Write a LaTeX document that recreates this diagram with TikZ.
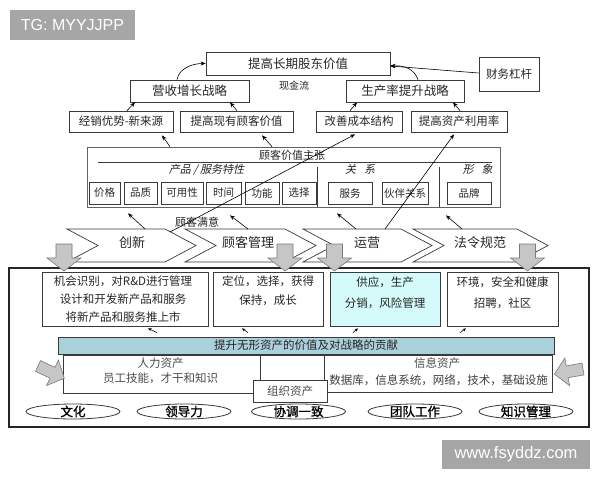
\documentclass[tikz,border=0pt]{standalone}
\usepackage{fontspec}
\newfontfamily\cjk{Noto Sans CJK SC}
\newfontfamily\cjkb[FakeBold=1.2]{Noto Sans CJK SC}
\newfontfamily\cjki[FakeSlant=0.22]{Noto Sans CJK SC}
\newfontfamily\lat{Liberation Sans}
\usetikzlibrary{shapes.geometric,arrows.meta}
\definecolor{lc}{HTML}{3A3A3A}
\definecolor{tc}{HTML}{262626}
\definecolor{gfill}{HTML}{C6C6C6}
\definecolor{gedge}{HTML}{7A7A7A}
\definecolor{cyanf}{HTML}{D4FAFA}
\definecolor{barf}{HTML}{AAD0DC}
\definecolor{wm}{HTML}{A6A6A6}
\newcommand\fsz[1]{\fontsize{#1}{#1}\selectfont}
\newcommand\gdown[1]{\draw[garr] (#1-8,244) -- (#1+8,244) -- (#1+8,258) -- (#1+17,258) -- (#1,271) -- (#1-17,258) -- (#1-8,258) -- cycle;}
\newcommand\chev[3]{\draw[chv] (#1,229) -- (#2,229) -- (#3,245.5) -- (#2,262) -- (#1,262) -- (#1+31,245.5) -- cycle;}
\begin{document}
\begin{tikzpicture}[x=1pt,y=-1pt,
  bx/.style={draw=lc, line width=0.7pt, fill=white, inner sep=0pt, text=tc},
  tx/.style={inner sep=0pt, text=tc},
  arr/.style={draw=black, line width=0.6pt, -{Stealth[length=5pt,width=4pt]}},
  sarr/.style={draw=black, line width=0.6pt, -{Stealth[length=3.5pt,width=3pt]}},
  chv/.style={draw=lc, line width=0.7pt, fill=white},
  garr/.style={draw=gedge, line width=0.6pt, fill=gfill},
  ell/.style={draw=lc, line width=0.8pt, fill=white, ellipse, inner sep=0pt, minimum width=94pt, minimum height=15pt},
  wmk/.style={fill=wm, inner sep=0pt, text=white, font=\lat}
]
\useasboundingbox (0,0) rectangle (600,480);
\fill[white] (0,0) rectangle (600,480);

% watermarks
\node[wmk, minimum width=125pt, minimum height=30pt, font=\lat\fsz{16}] (wm1) at (72.5,25) {TG: MYYJJPP};
\node[wmk, minimum width=148pt, minimum height=29pt, font=\lat\fsz{16.5}] (wm2) at (516,454.5) {www.fsyddz.com};

% top level
\node[bx, minimum width=184pt, minimum height=23pt, font=\cjk\fsz{12.5}] (top) at (298,63.5) {提高长期股东价值};
\node[bx, minimum width=60pt, minimum height=34pt, font=\cjk\fsz{11.5}] (fin) at (509,74) {财务杠杆};
\node[bx, minimum width=119pt, minimum height=22pt, font=\cjk\fsz{12.5}] (rev) at (189.5,91) {营收增长战略};
\node[bx, minimum width=118pt, minimum height=22pt, font=\cjk\fsz{12.5}] (prod) at (405,91) {生产率提升战略};
\node[tx, font=\cjk\fsz{10}] (cash) at (294,86) {现金流};

\node[bx, minimum width=104pt, minimum height=21pt, font=\cjk\fsz{11.5}] (la) at (121,121.5) {经销优势-新来源};
\node[bx, minimum width=113pt, minimum height=21pt, font=\cjk\fsz{11.5}] (lb) at (236.5,121.5) {提高现有顾客价值};
\node[bx, minimum width=86pt, minimum height=21pt, font=\cjk\fsz{11.5}] (lcn) at (359,121.5) {改善成本结构};
\node[bx, minimum width=96pt, minimum height=21pt, font=\cjk\fsz{11.5}] (ldn) at (459,121.5) {提高资产利用率};

\draw[arr] ([xshift=-12.5pt]rev.north) .. controls +(2,-11) and +(-14,0) .. (top.west);
\draw[arr] ([xshift=13pt]prod.north) .. controls +(-3,-9) and +(16,-1) .. ([yshift=-2.5pt]top.east);
\draw[arr] ([yshift=1pt]fin.west) -- ([yshift=-2.5pt]top.east);

\draw[arr] ([xshift=6pt]la.north) -- ([xshift=-54.5pt]rev.south);
\draw[arr] ([xshift=0.5pt]lb.north) -- ([xshift=40.5pt]rev.south);
\draw[arr] ([xshift=-9pt]lcn.north) -- ([xshift=-48pt]prod.south);
\draw[arr] ([xshift=1pt]ldn.north) -- ([xshift=48pt]prod.south);

% customer value proposition
\node[bx, draw=gedge!80!black, minimum width=413pt, minimum height=60pt] (vb) at (293.5,177) {};
\node[tx, font=\cjk\fsz{11}] (vbt) at (292,155) {顾客价值主张};
\draw[lc, line width=0.7pt] (98,162) -- (492,162);
\draw[lc, line width=0.7pt] (317,167) -- (317,207);
\draw[lc, line width=0.7pt] (439,167) -- (439,207);
\node[tx, font=\cjki\fsz{11}] (g1) at (206.5,169.5) {产品 / 服务特性};
\node[tx, font=\cjki\fsz{11}] (g2) at (360,169.5) {关\hspace{8pt}系};
\node[tx, font=\cjki\fsz{11}] (g3) at (477.5,169.5) {形\hspace{8pt}象};

\node[bx, minimum width=31pt, minimum height=22pt, font=\cjk\fsz{10.5}] (s1) at (104.5,193) {价格};
\node[bx, minimum width=33pt, minimum height=22pt, font=\cjk\fsz{10.5}] (s2) at (140.5,193) {品质};
\node[bx, minimum width=42pt, minimum height=22pt, font=\cjk\fsz{10.5}] (s3) at (182,193) {可用性};
\node[bx, minimum width=35pt, minimum height=22pt, font=\cjk\fsz{10.5}] (s4) at (223.5,193) {时间};
\node[bx, minimum width=34pt, minimum height=22pt, font=\cjk\fsz{10.5}] (s5) at (262,193) {功能};
\node[bx, minimum width=34pt, minimum height=22pt, font=\cjk\fsz{10.5}] (s6) at (299,193) {选择};
\node[bx, minimum width=44pt, minimum height=22pt, font=\cjk\fsz{10.5}] (s7) at (350,193.5) {服务};
\node[bx, minimum width=46pt, minimum height=22pt, font=\cjk\fsz{10.5}] (s8) at (405,193.5) {伙伴关系};
\node[bx, minimum width=44pt, minimum height=22pt, font=\cjk\fsz{10.5}] (s9) at (469,193.5) {品牌};

\draw[arr] ([xshift=-123.5pt]vb.north) -- ([xshift=41pt,yshift=-3pt]la.south);
\draw[arr] ([xshift=-21.5pt]vb.north) -- ([xshift=25.5pt,yshift=-3pt]lb.south);

\node[tx, font=\cjk\fsz{11}] (sat) at (197,222) {顾客满意};

% chevrons
\chev{67}{165}{196}
\chev{185}{285}{316}
\chev{303}{401}{432}
\chev{413}{517}{548}
\node[tx, font=\cjk\fsz{13}] (c1) at (132,242.5) {创新};
\node[tx, font=\cjk\fsz{13}] (c2) at (248,242.5) {顾客管理};
\node[tx, font=\cjk\fsz{13}] (c3) at (367,242.5) {运营};
\node[tx, font=\cjk\fsz{13}] (c4) at (480,242.5) {法令规范};
\coordinate (k1) at (145,229);
\coordinate (k2) at (248,229);
\coordinate (k3) at (356,229);
\coordinate (k4) at (462,229);
\coordinate (k5) at (170,232);
\coordinate (k6) at (385,229);

\draw[arr] (k1) -- ([xshift=-165.5pt,yshift=-6pt]vb.south);
\draw[arr] (k2) -- ([xshift=-63.5pt,yshift=-8pt]vb.south);
\draw[arr] (k3) -- ([xshift=43.5pt,yshift=-6pt]vb.south);
\draw[arr] (k4) -- ([xshift=152.5pt,yshift=-8pt]vb.south);
\draw[arr] (k5) -- ([xshift=-4pt,yshift=-2pt]lcn.south);
\draw[arr] (k6) -- ([xshift=-5pt,yshift=-2pt]ldn.south);

% bottom frame
\node[draw=black!85, line width=1.4pt, fill=white, inner sep=0pt, minimum width=580pt, minimum height=159pt] (frame) at (299,347.5) {};

\node[bx, minimum width=166pt, minimum height=54pt] (bA) at (125,299) {};
\node[bx, minimum width=110pt, minimum height=54pt] (bB) at (268,299) {};
\node[bx, fill=cyanf, minimum width=110pt, minimum height=54pt] (bC) at (385,299) {};
\node[bx, minimum width=111pt, minimum height=54pt] (bD) at (502.5,299) {};
\node[tx, font=\cjk\fsz{11.5}] (tA1) at (123,281) {机会识别，对R\&D进行管理};
\node[tx, font=\cjk\fsz{11.5}] (tA2) at (123,299.5) {设计和开发新产品和服务};
\node[tx, font=\cjk\fsz{11.5}] (tA3) at (123,317) {将新产品和服务推上市};
\node[tx, font=\cjk\fsz{11.5}] (tB1) at (268,281) {定位，选择，获得};
\node[tx, font=\cjk\fsz{11.5}] (tB2) at (268,300) {保持，成长};
\node[tx, font=\cjk\fsz{11.5}] (tC1) at (385,282) {供应，生产};
\node[tx, font=\cjk\fsz{11.5}] (tC2) at (385,303) {分销，风险管理};
\node[tx, font=\cjk\fsz{11.5}] (tD1) at (502.5,282) {环境，安全和健康};
\node[tx, font=\cjk\fsz{11.5}] (tD2) at (502.5,303) {招聘，社区};

\node[draw=lc, line width=0.8pt, fill=barf, inner sep=0pt, minimum width=496pt, minimum height=17pt, font=\cjk\fsz{11.5}, text=tc] (bar) at (306,345.5) {提升无形资产的价值及对战略的贡献};

\draw[sarr] ([xshift=-149pt,yshift=4pt]bar.north) -- ([xshift=23pt,yshift=-2pt]bA.south);
\draw[sarr] ([xshift=-58pt,yshift=4pt]bar.north) -- ([xshift=-26pt,yshift=-2pt]bB.south);
\draw[sarr] ([xshift=47pt,yshift=4pt]bar.north) -- ([xshift=-27pt,yshift=-2pt]bC.south);
\draw[sarr] ([xshift=154pt,yshift=4pt]bar.north) -- ([xshift=-36.5pt,yshift=-2pt]bD.south);

\node[bx, minimum width=64pt, minimum height=30pt] (mid) at (292,370) {};
\node[bx, minimum width=197pt, minimum height=38pt] (hum) at (161.5,374) {};
\node[bx, minimum width=228pt, minimum height=37pt] (inf) at (438,373.5) {};
\node[tx, font=\cjk\fsz{11.5}, text=black!70] (h1) at (160.5,363) {人力资产};
\node[tx, font=\cjk\fsz{11.5}, text=black!70] (h2) at (160.5,378.5) {员工技能，才干和知识};
\node[tx, font=\cjk\fsz{11.5}, text=black!70] (i1) at (437,363) {信息资产};
\node[tx, font=\cjk\fsz{11.5}, text=black!75] (i2) at (438.5,380) {数据库，信息系统，网络，技术，基础设施};
\node[bx, minimum width=74pt, minimum height=22pt, font=\cjk\fsz{11.5}, text=black!70] (org) at (290,391) {组织资产};

\node[ell] (e1) at (73,411.5) {};
\node[ell] (e2) at (184,411.5) {};
\node[ell] (e3) at (298.5,411.5) {};
\node[ell] (e4) at (415,411.5) {};
\node[ell] (e5) at (526,411.5) {};
\node[tx, font=\cjkb\fsz{12.5}, text=black] (et1) at (73,411.5) {文化};
\node[tx, font=\cjkb\fsz{12.5}, text=black] (et2) at (184,411.5) {领导力};
\node[tx, font=\cjkb\fsz{12.5}, text=black] (et3) at (298.5,411.5) {协调一致};
\node[tx, font=\cjkb\fsz{12.5}, text=black] (et4) at (415,411.5) {团队工作};
\node[tx, font=\cjkb\fsz{12.5}, text=black] (et5) at (526,411.5) {知识管理};

% gray block arrows
\gdown{64}
\gdown{285}
\gdown{334.5}
\gdown{527.5}
\draw[garr] (40.5,360.6) -- (55.0,367.4) -- (58.4,360.1) -- (64.3,378.3) -- (46.6,385.5) -- (50.0,378.2) -- (35.5,371.4) -- cycle;
\draw[garr] (582,363.1) -- (566.2,365.9) -- (564.8,358.0) -- (554.4,374.1) -- (569.6,385.6) -- (568.2,377.7) -- (584,374.9) -- cycle;
\end{tikzpicture}
\end{document}
